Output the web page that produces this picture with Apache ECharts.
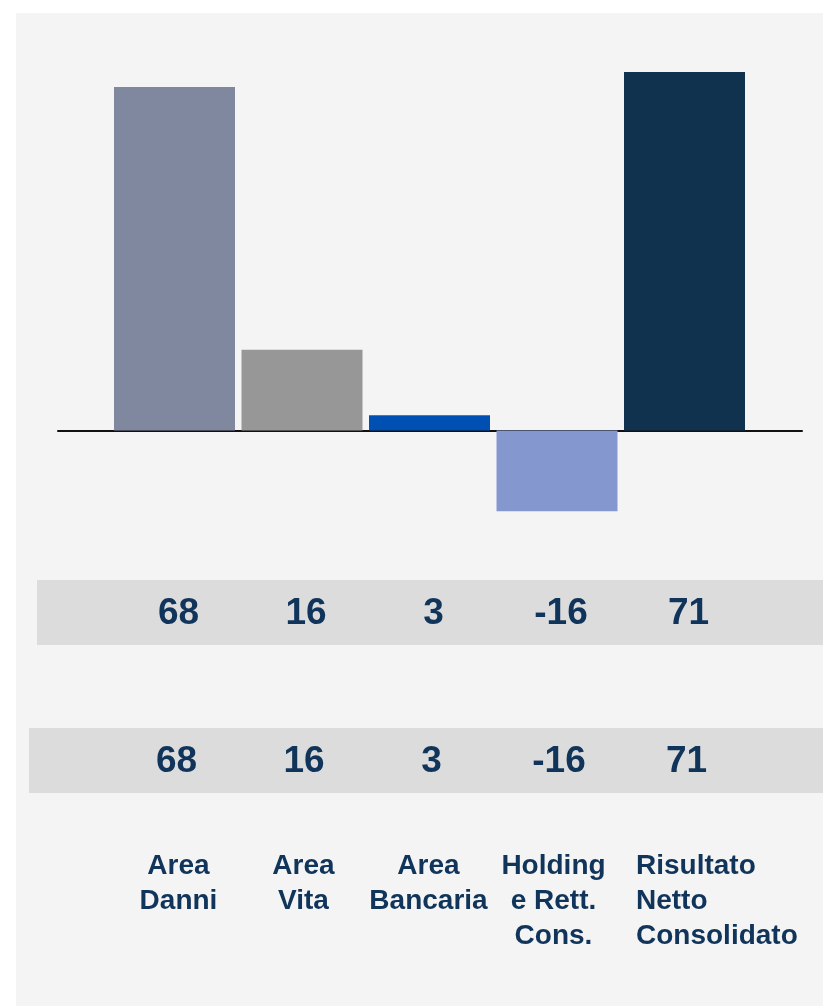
<!DOCTYPE html>
<html>
<head>
<meta charset="utf-8">
<script src="https://cdn.jsdelivr.net/npm/echarts@6/dist/echarts.min.js"></script>
<style>
  html, body { margin: 0; padding: 0; background: #fff; }
  #chart { width: 823px; height: 1006px; }
</style>
</head>
<body>
<div id="chart"></div>
<script>
// data
const categories = ['Area Danni', 'Area Vita', 'Area Bancaria', 'Holding e Rett. Cons.', 'Risultato Netto Consolidato']
const values = [68, 16, 3, -16, 71]
const tableRow1 = ['68', '16', '3', '-16', '71']
const tableRow2 = ['68', '16', '3', '-16', '71']
const labelLines = [
  ['Area', 'Danni'],
  ['Area', 'Vita'],
  ['Area', 'Bancaria'],
  ['Holding', 'e Rett.', 'Cons.'],
  ['Risultato', 'Netto', 'Consolidato']
]

const barColors = ['#8088a0', '#979797', '#0050b4', '#8597cf', '#10324f']
const navy = '#10345a'
const font = '"Liberation Sans", Arial, sans-serif'

const chart = echarts.init(document.getElementById('chart'))

// thin grids used only to place the text rows under the bars
function textGrid(left, top) {
  return { left: left, top: top, width: 637.5, height: 1 }
}

const option = {
  backgroundColor: '#ffffff',
  animation: false,
  graphic: [
    { type: 'rect', shape: { x: 16, y: 13, width: 807, height: 993 }, style: { fill: '#f4f4f4' }, z: -10 },
    { type: 'rect', shape: { x: 37, y: 580, width: 786, height: 65 }, style: { fill: '#dcdcdc' }, z: -9 },
    { type: 'rect', shape: { x: 29, y: 728, width: 794, height: 65 }, style: { fill: '#dcdcdc' }, z: -9 }
  ],
  grid: [
    { left: 110.75, top: 26.5, width: 637.5, height: 505 },
    { left: 58, top: 26.5, width: 744, height: 505 },
    textGrid(114.75, 612.5),
    textGrid(112.75, 761),
    { left: 116, top: 848, width: 625, height: 1 }
  ],
  xAxis: [
    {
      gridIndex: 0, type: 'category', data: categories,
      axisLine: { show: false }, axisTick: { show: false }, axisLabel: { show: false }
    },
    {
      gridIndex: 1, type: 'category', data: categories,
      axisLine: { show: true, onZero: true, lineStyle: { color: '#111', width: 2 } },
      axisTick: { show: false }, axisLabel: { show: false }
    },
    {
      gridIndex: 2, type: 'category', data: categories,
      axisLine: { show: false }, axisTick: { show: false },
      axisLabel: {
        margin: 0, verticalAlign: 'middle', interval: 0,
        fontSize: 37, fontWeight: 'bold', fontFamily: font, color: navy,
        formatter: (v, i) => tableRow1[i]
      }
    },
    {
      gridIndex: 3, type: 'category', data: categories,
      axisLine: { show: false }, axisTick: { show: false },
      axisLabel: {
        margin: 0, verticalAlign: 'middle', interval: 0,
        fontSize: 37, fontWeight: 'bold', fontFamily: font, color: navy,
        formatter: (v, i) => tableRow2[i]
      }
    },
    {
      gridIndex: 4, type: 'category', data: categories,
      axisLine: { show: false }, axisTick: { show: false },
      axisLabel: {
        margin: 0, interval: 0, lineHeight: 35,
        fontSize: 28, fontWeight: 'bold', fontFamily: font, color: navy,
        formatter: (v, i) => {
          if (i === categories.length - 1) {
            return labelLines[i].map(s => '{l|' + s + '}').join('\n')
          }
          return labelLines[i].join('\n')
        },
        rich: {
          l: {
            width: 85, align: 'left', lineHeight: 35,
            fontSize: 28, fontWeight: 'bold', fontFamily: font, color: navy
          }
        }
      }
    }
  ],
  yAxis: [
    { gridIndex: 0, type: 'value', min: -20, max: 80, show: false },
    { gridIndex: 1, type: 'value', min: -20, max: 80, show: false },
    { gridIndex: 2, type: 'value', show: false },
    { gridIndex: 3, type: 'value', show: false },
    { gridIndex: 4, type: 'value', show: false }
  ],
  series: [
    {
      type: 'bar',
      xAxisIndex: 0,
      yAxisIndex: 0,
      barWidth: 121,
      z: 3,
      data: values.map((v, i) => ({ value: v, itemStyle: { color: barColors[i] } }))
    }
  ]
}

chart.setOption(option)
</script>
</body>
</html>
